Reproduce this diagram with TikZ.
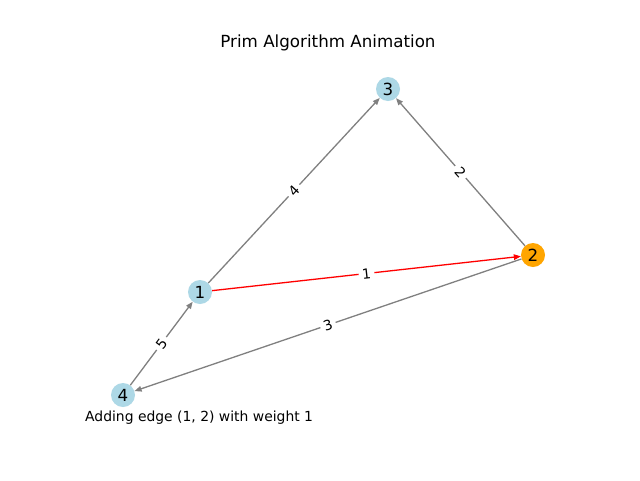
\documentclass[tikz,border=0pt]{standalone}
\usepackage{fontspec}
\setmainfont{DejaVu Sans}
\usetikzlibrary{arrows.meta}
\definecolor{lblue}{HTML}{ADD8E6}
\definecolor{morange}{HTML}{FFA500}
\definecolor{mgray}{HTML}{808080}
\begin{document}
\begin{tikzpicture}[x=1pt,y=-1pt,
  vert/.style={circle, minimum size=24pt, inner sep=0pt, font=\fontsize{16.7}{18}\selectfont},
  edge/.style={draw=mgray, line width=1.3pt, -{Stealth[length=7pt,width=5.5pt,inset=0pt]}},
  redge/.style={edge, draw=red},
  wlabel/.style={midway, sloped, fill=white, inner sep=3.5pt, text=black, font=\fontsize{13.9}{15}\selectfont}]
\useasboundingbox[fill=white] (0,0) rectangle (640,480);
\node[font=\fontsize{16.7}{18}\selectfont] (title) at (328,43) {Prim Algorithm Animation};
\node[vert, fill=lblue] (n1) at (200,292) {1};
\node[vert, fill=morange] (n2) at (533,255) {2};
\node[vert, fill=lblue] (n3) at (388,89) {3};
\node[vert, fill=lblue] (n4) at (123,395) {4};
\draw[edge] (n1) -- node[wlabel] {4} (n3);
\draw[edge] (n2) -- node[wlabel] {2} (n3);
\draw[edge] (n2) -- node[wlabel] {3} (n4);
\draw[edge] (n4) -- node[wlabel] {5} (n1);
\draw[redge] (n1) -- node[wlabel] {1} (n2);
\node[anchor=base west, inner sep=0pt, font=\fontsize{13.9}{15}\selectfont] (caption) at (85,421) {Adding edge (1, 2) with weight 1};
\end{tikzpicture}
\end{document}
